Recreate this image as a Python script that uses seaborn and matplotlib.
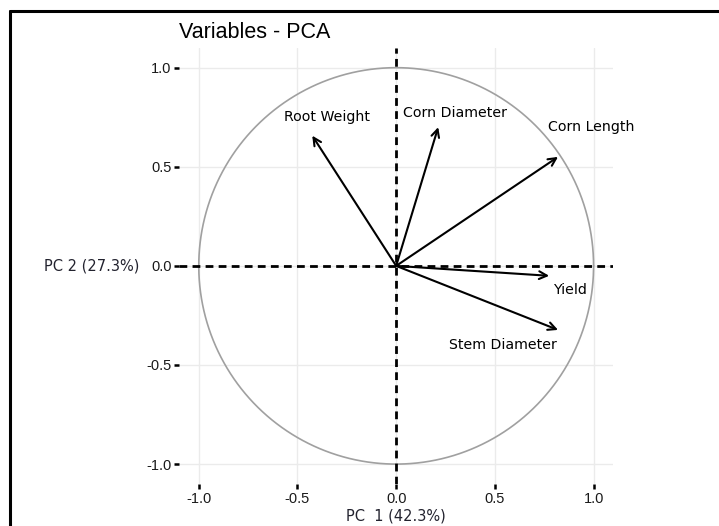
import numpy as np
import pandas as pd
import matplotlib
matplotlib.use("Agg")
import matplotlib.pyplot as plt
from matplotlib.lines import Line2D
import seaborn as sns

# PCA variable loadings (PC1, PC2)
variables = ["Root Weight", "Corn Diameter", "Corn Length", "Yield", "Stem Diameter"]
pc1 = [-0.425, 0.213, 0.82, 0.775, 0.82]
pc2 = [0.657, 0.70, 0.55, -0.05, -0.323]
# where the labels sit (repelled)
label_x = [-0.35, 0.30, 0.99, 0.88, 0.54]
label_y = [0.75, 0.77, 0.70, -0.12, -0.40]

ticks = [-1.0, -0.5, 0.0, 0.5, 1.0]
tick_labels = ["-1.0", "-0.5", "0.0", "0.5", "1.0"]

sns.set_theme(style="whitegrid")
plt.rcParams["font.family"] = ["DejaVu Sans"]

fig = plt.figure(figsize=(7.19, 5.26), dpi=100)
ax = fig.add_axes([0.249, 0.080, 0.604, 0.829])

# unit circle
theta = np.linspace(0, 2 * np.pi, 400)
circle = pd.DataFrame({"x": np.cos(theta), "y": np.sin(theta)})
sns.lineplot(data=circle, x="x", y="y", sort=False, color="#a0a0a0",
             linewidth=1.2, ax=ax, estimator=None)

ax.axhline(0, color="black", linestyle=(0, (2.8, 1.9)), linewidth=2.0, zorder=2)
ax.axvline(0, color="black", linestyle=(0, (2.8, 1.9)), linewidth=2.0, zorder=2)

for name, x, y, lx, ly in zip(variables, pc1, pc2, label_x, label_y):
    ax.annotate("", xy=(x, y), xytext=(0, 0),
                arrowprops=dict(arrowstyle="->", color="black", lw=1.5,
                                shrinkA=0, shrinkB=0, mutation_scale=14))
    ax.text(lx, ly, name, ha="center", va="center", fontsize=10.2, color="black")

ax.set_xlim(-1.1, 1.1)
ax.set_ylim(-1.1, 1.1)
ax.set_xticks(ticks)
ax.set_xticklabels(tick_labels, family="Liberation Sans", fontsize=10.5, color="#1a1a1a")
ax.set_yticks(ticks)
ax.set_yticklabels(tick_labels, family="Liberation Sans", fontsize=10.5, color="#1a1a1a")
ax.tick_params(axis="both", which="major", length=3.5, width=1.8, color="black",
               bottom=True, left=True, pad=2)
ax.grid(True, color="#ebebeb", linewidth=1.0)
ax.set_facecolor("white")
for s in ax.spines.values():
    s.set_visible(False)

ax.set_xlabel("PC  1 (42.3%)", fontsize=10.5, color="#22222e", labelpad=2)
ax.set_ylabel("PC 2 (27.3%)", fontsize=10.5, color="#22222e", rotation=0,
              ha="right", va="center", labelpad=5)
ax.set_title("Variables - PCA", family="Liberation Sans", fontsize=15.5,
             loc="left", color="black", pad=7)

# screenshot frame on the left and top
fig.add_artist(Line2D([10 / 719, 10 / 719], [0, 1 - 11 / 526], color="black", linewidth=2.2))
fig.add_artist(Line2D([10 / 719, 1], [1 - 11 / 526, 1 - 11 / 526], color="black", linewidth=2.2))

fig.savefig("out.png", dpi=100)
